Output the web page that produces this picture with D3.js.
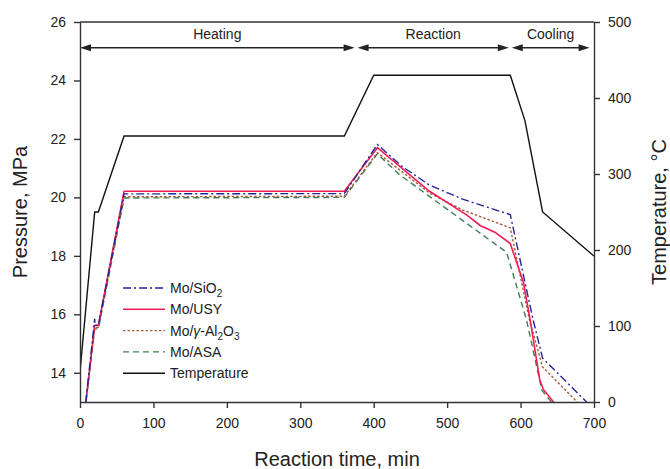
<!DOCTYPE html>
<html>
<head>
<meta charset="utf-8">
<script src="https://cdn.jsdelivr.net/npm/d3@7"></script>
<style>
  body { margin: 0; background: #fff; }
  svg text { font-family: "Liberation Sans", Arial, sans-serif; fill: #222; }
</style>
</head>
<body>
<div id="chart"></div>
<script>
// Data
const tempTime  = [0, 20, 25, 60, 360, 400, 586, 606, 630, 700];
const tempValue = [40, 250, 250, 350, 350, 430, 430, 370, 250, 192];

const sio2Time  = [8, 20, 20.5, 25, 60, 360, 405, 438, 476, 522, 586, 617, 630, 690];
const sio2Value = [13, 15.85, 15.62, 15.62, 20.12, 20.13, 21.81, 21.07, 20.42, 19.93, 19.41, 15.82, 14.5, 13.0];

const usyTime  = [8, 20, 25, 60, 360, 405, 476, 526, 545, 565, 586, 604, 613, 626, 631, 645];
const usyValue = [13, 15.62, 15.62, 20.21, 20.21, 21.70, 20.21, 19.41, 19.04, 18.81, 18.42, 17.08, 15.82, 13.77, 13.43, 13.0];

const aloTime  = [8, 20, 25, 60, 360, 405, 476, 522, 586, 612, 630, 677];
const aloValue = [13, 15.55, 15.55, 20.02, 20.04, 21.53, 20.15, 19.56, 18.96, 15.82, 14.2, 13.0];

const asaTime  = [8, 20, 25, 60, 360, 405, 435, 581, 608, 629, 642];
const asaValue = [13, 15.5, 15.5, 19.98, 20.0, 21.49, 20.78, 18.12, 15.82, 13.4, 13.0];

const phaseNames = ['Heating', 'Reaction', 'Cooling'];
const phaseStart = [0, 378, 588];
const phaseEnd   = [374, 584, 694];
const phaseArrowP = 25.12;

const xTicks = [0, 100, 200, 300, 400, 500, 600, 700];
const pTicks = [14, 16, 18, 20, 22, 24, 26];
const tTicks = [0, 100, 200, 300, 400, 500];

function zip(ts, vs) { return ts.map((t, i) => [t, vs[i]]); }

const seriesList = [
  { name: 'sio2', data: zip(sio2Time, sio2Value), color: '#24249c', dash: '8,3,2,3', width: 1.4 },
  { name: 'usy',  data: zip(usyTime, usyValue),   color: '#ee1d55', dash: null,      width: 1.6 },
  { name: 'alo',  data: zip(aloTime, aloValue),   color: '#a45a3c', dash: '2.5,2',   width: 1.4 },
  { name: 'asa',  data: zip(asaTime, asaValue),   color: '#3f7f52', dash: '6,4',     width: 1.4 }
];

const margin = { top: 22, left: 80, right: 76, bottom: 67 };
const W = 670, H = 469;
const width = W - margin.left - margin.right;   // 514
const height = H - margin.top - margin.bottom;  // 380

const svg = d3.select('#chart').append('svg')
  .attr('width', W).attr('height', H);

const g = svg.append('g')
  .attr('transform', `translate(${margin.left},${margin.top})`);

const x = d3.scaleLinear().domain([0, 700]).range([0, width]);
const yP = d3.scaleLinear().domain([13, 26]).range([height, 0]);
const yT = d3.scaleLinear().domain([0, 500]).range([height, 0]);

// clip for data lines
svg.append('defs').append('clipPath').attr('id', 'plotClip')
  .append('rect').attr('width', width).attr('height', height);

const plot = g.append('g').attr('clip-path', 'url(#plotClip)');

const lineP = d3.line().x(d => x(d[0])).y(d => yP(d[1]));
const lineT = d3.line().x(d => x(d[0])).y(d => yT(d[1]));

// temperature
plot.append('path')
  .datum(zip(tempTime, tempValue))
  .attr('d', lineT)
  .attr('fill', 'none')
  .attr('stroke', '#111')
  .attr('stroke-width', 1.4);

// pressure series (drawn so red sits on top-ish)
seriesList.slice().reverse().forEach(s => {
  plot.append('path')
    .datum(s.data)
    .attr('d', lineP)
    .attr('fill', 'none')
    .attr('stroke', s.color)
    .attr('stroke-width', s.width)
    .attr('stroke-dasharray', s.dash);
});

// axes
function styleAxis(sel) {
  sel.select('.domain').attr('stroke', '#333').attr('stroke-width', 1.4);
  sel.selectAll('.tick line').attr('stroke', '#333').attr('stroke-width', 1.4);
  sel.selectAll('.tick text').style('font-size', '14px').attr('fill', '#222');
}

g.append('g')
  .attr('transform', `translate(0,${height})`)
  .call(d3.axisBottom(x).tickValues(xTicks).tickSize(6).tickSizeOuter(0).tickPadding(10))
  .call(styleAxis);

g.append('g')
  .call(d3.axisLeft(yP).tickValues(pTicks).tickSize(6).tickSizeOuter(0).tickPadding(8))
  .call(styleAxis);

g.append('g')
  .attr('transform', `translate(${width},0)`)
  .call(d3.axisRight(yT).tickValues(tTicks).tickSize(6).tickSizeOuter(0).tickPadding(8))
  .call(styleAxis);

// top frame
g.append('line')
  .attr('x1', 0).attr('x2', width).attr('y1', 0).attr('y2', 0)
  .attr('stroke', '#333').attr('stroke-width', 1.4);

// axis titles
svg.append('text')
  .attr('x', margin.left + width / 2).attr('y', 466)
  .attr('text-anchor', 'middle')
  .style('font-size', '20px')
  .text('Reaction time, min');

svg.append('text')
  .attr('transform', `translate(27,${margin.top + height / 2}) rotate(-90)`)
  .attr('text-anchor', 'middle')
  .style('font-size', '20px')
  .text('Pressure, MPa');

svg.append('text')
  .attr('transform', `translate(666,${margin.top + height / 2}) rotate(-90)`)
  .attr('text-anchor', 'middle')
  .style('font-size', '20px')
  .text('Temperature, °C');

// phase arrows
const arrowLen = 11, arrowHalf = 3.5;
phaseNames.forEach((name, i) => {
  const x0 = x(phaseStart[i]), x1 = x(phaseEnd[i]), yy = yP(phaseArrowP);
  g.append('line')
    .attr('x1', x0 + 4).attr('x2', x1 - 4).attr('y1', yy).attr('y2', yy)
    .attr('stroke', '#222').attr('stroke-width', 1.4);
  g.append('path')
    .attr('d', `M${x0},${yy}L${x0 + arrowLen},${yy - arrowHalf}L${x0 + arrowLen},${yy + arrowHalf}Z`)
    .attr('fill', '#222');
  g.append('path')
    .attr('d', `M${x1},${yy}L${x1 - arrowLen},${yy - arrowHalf}L${x1 - arrowLen},${yy + arrowHalf}Z`)
    .attr('fill', '#222');
  g.append('text')
    .attr('x', (x0 + x1) / 2).attr('y', yy - 9)
    .attr('text-anchor', 'middle')
    .style('font-size', '14px')
    .text(name);
});

// legend
const legend = svg.append('g').attr('transform', 'translate(123,288)');
const legendItems = [
  { color: '#24249c', dash: '8,3,2,3', width: 1.4 },
  { color: '#ee1d55', dash: null, width: 1.6 },
  { color: '#a45a3c', dash: '2.5,2', width: 1.4 },
  { color: '#3f7f52', dash: '6,4', width: 1.4 },
  { color: '#111', dash: null, width: 1.4 }
];
const rowH = 21.3;
legendItems.forEach((it, i) => {
  const row = legend.append('g').attr('transform', `translate(0,${i * rowH})`);
  row.append('line')
    .attr('x1', 0).attr('x2', 42).attr('y1', 0).attr('y2', 0)
    .attr('stroke', it.color).attr('stroke-width', it.width)
    .attr('stroke-dasharray', it.dash);
  const t = row.append('text').attr('x', 47).attr('y', 5).style('font-size', '14px');
  if (i === 0) {
    t.append('tspan').text('Mo/SiO');
    t.append('tspan').attr('dy', 4).style('font-size', '10px').text('2');
  } else if (i === 1) {
    t.text('Mo/USY');
  } else if (i === 2) {
    t.append('tspan').text('Mo/');
    t.append('tspan').style('font-style', 'italic').text('γ');
    t.append('tspan').text('-Al');
    t.append('tspan').attr('dy', 4).style('font-size', '10px').text('2');
    t.append('tspan').attr('dy', -4).text('O');
    t.append('tspan').attr('dy', 4).style('font-size', '10px').text('3');
  } else if (i === 3) {
    t.text('Mo/ASA');
  } else {
    t.text('Temperature');
  }
});
</script>
</body>
</html>
